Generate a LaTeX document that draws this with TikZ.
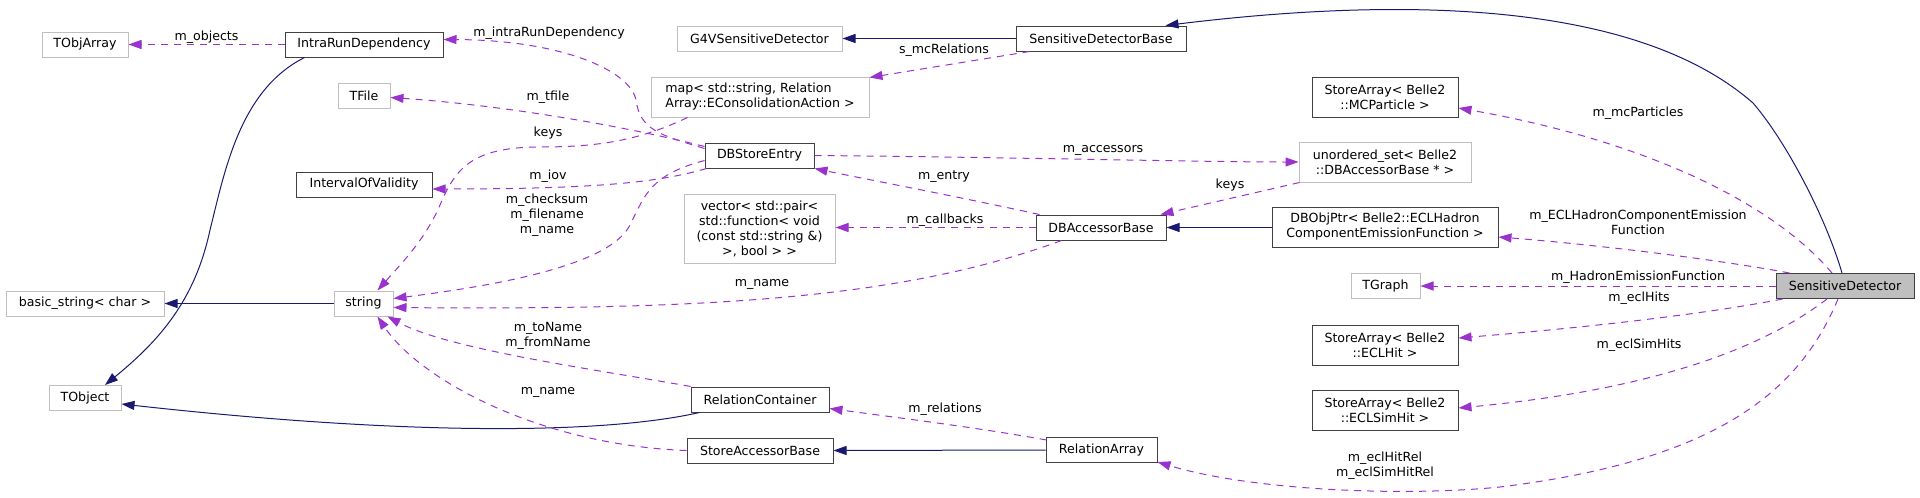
\documentclass[tikz,border=0pt]{standalone}
\usepackage{fontspec}
\setmainfont{DejaVu Sans}
\usetikzlibrary{arrows.meta,calc}
\definecolor{dep}{HTML}{9A32CD}
\definecolor{inh}{HTML}{191970}
\definecolor{gbord}{HTML}{BFBFBF}
\definecolor{bbord}{HTML}{404040}
\begin{document}
\begin{tikzpicture}[x=1pt,y=-1pt,
  every node/.style={font=\fontsize{12.6}{15}\selectfont},
  box/.style={draw=bbord,line width=1pt,fill=white,inner sep=0pt,align=center},
  gbox/.style={draw=gbord,line width=1pt,fill=white,inner sep=0pt,align=center},
  depl/.style={draw=dep,line width=1pt,dash pattern=on 7pt off 6pt,-{Triangle[length=13pt,width=9pt,fill=dep]}},
  inhl/.style={draw=inh,line width=1pt,-{Triangle[length=13pt,width=9pt,fill=inh]}},
  lab/.style={inner sep=0pt,align=center,text=black}]
\useasboundingbox (0,0) rectangle (1920,498);
% nodes
\node[gbox,minimum width=86pt,minimum height=25pt] (tobjarray) at (85,44.5) {TObjArray};
\node[box,minimum width=158pt,minimum height=25pt] (intra) at (364,44.5) {IntraRunDependency};
\node[gbox,minimum width=52pt,minimum height=25pt] (tfile) at (364,95.5) {TFile};
\node[box,minimum width=136pt,minimum height=25pt] (iov) at (364,184.5) {IntervalOfValidity};
\node[gbox,minimum width=158pt,minimum height=25pt] (basic) at (85,303.5) {basic\_string< char >};
\node[gbox,minimum width=72pt,minimum height=25pt] (tobject) at (85,398) {TObject};
\node[gbox,minimum width=59pt,minimum height=25pt] (string) at (363.5,303.5) {string};
\node[gbox,minimum width=165pt,minimum height=25pt] (g4v) at (759.5,38.5) {G4VSensitiveDetector};
\node[gbox,minimum width=218pt,minimum height=40pt,align=left] (map) at (760,97) {map< std::string, Relation\\Array::EConsolidationAction >};
\node[box,minimum width=109pt,minimum height=25pt] (dbse) at (759.5,155.5) {DBStoreEntry};
\node[gbox,minimum width=151pt,minimum height=69pt] (vector) at (759.5,228.5) {vector< std::pair<\\ std::function< void\\ (const std::string \&)\\ >, bool > >};
\node[box,minimum width=138pt,minimum height=25pt] (relcont) at (760,399.5) {RelationContainer};
\node[box,minimum width=146pt,minimum height=25pt] (sab) at (760,450.5) {StoreAccessorBase};
\node[box,minimum width=170pt,minimum height=25pt] (sdb) at (1101,38.5) {SensitiveDetectorBase};
\node[box,minimum width=146pt,minimum height=40pt] (mcpart) at (1385,97) {StoreArray< Belle2\\::MCParticle >};
\node[gbox,minimum width=172pt,minimum height=40pt] (uset) at (1385,162) {unordered\_set< Belle2\\::DBAccessorBase * >};
\node[box,minimum width=130pt,minimum height=25pt] (dbab) at (1101,227.5) {DBAccessorBase};
\node[box,minimum width=226pt,minimum height=40pt] (dbobj) at (1385,227) {DBObjPtr< Belle2::ECLHadron\\ComponentEmissionFunction >};
\node[gbox,minimum width=69pt,minimum height=25pt] (tgraph) at (1385.5,286) {TGraph};
\node[box,minimum width=146pt,minimum height=40pt] (eclhit) at (1385,345) {StoreArray< Belle2\\::ECLHit >};
\node[box,minimum width=146pt,minimum height=40pt] (eclsim) at (1385,410) {StoreArray< Belle2\\::ECLSimHit >};
\node[box,minimum width=111pt,minimum height=25pt] (relarr) at (1101.5,450) {RelationArray};
\node[box,fill=gbord,minimum width=138pt,minimum height=25pt] (sd) at (1845,286) {SensitiveDetector};
% inheritance edges
\draw[inhl] ($(intra.south west)+(20,0)$) .. controls (240,90) and (225,170) .. (210,230) .. controls (195,300) and (160,340) .. ($(tobject.north)+(20,0)$);
\draw[inhl] (string.west) -- (basic.east);
\draw[inhl] (sdb.west) -- (g4v.east);
\draw[inhl] (dbobj.west |- dbab.east) -- (dbab.east);
\draw[inhl] ($(relcont.south west)+(9,0)$) .. controls (600,435) and (400,435) .. ($(tobject.east)+(0,6)$);
\draw[inhl] (relarr.west) -- (sab.east);
\draw[inhl] ($(sd.north)+(-3,0)$) .. controls (1825,215) and (1785,140) .. (1753,103) .. controls (1640,4) and (1415,-5) .. ($(sdb.north east)+(-21,0)$);
% dependency edges
\draw[depl] (intra.west) -- (tobjarray.east) node[lab,midway,above=1pt] {m\_objects};
\draw[depl] ($(dbse.west)+(0,-7)$) .. controls (660,135) and (640,130) .. (636,100) .. controls (630,70) and (560,40) .. ($(intra.east)+(0,-5)$);
\node[lab] (l_intra) at (549,33) {m\_intraRunDependency};
\draw[depl] ($(dbse.west)+(0,-9)$) .. controls (620,125) and (500,105) .. ($(tfile.east)+(0,2)$);
\node[lab] (l_tfile) at (548,97) {m\_tfile};
\draw[depl] ($(map.south west)+(37,0)$) .. controls (640,140) and (600,147) .. (540,147) .. controls (470,147) and (455,170) .. (440,205) .. controls (425,240) and (400,265) .. ($(string.north)+(14,0)$);
\node[lab] (l_keys1) at (548,133) {keys};
\draw[depl] ($(dbse.south west)+(2,0)$) .. controls (660,182) and (600,189) .. ($(iov.east)+(0,4.5)$);
\node[lab] (l_iov) at (548,176) {m\_iov};
\draw[depl] ($(dbse.west)+(0,5)$) .. controls (650,175) and (645,195) .. (630,225) .. controls (610,265) and (500,285) .. ($(string.east)+(0,-5)$);
\node[lab] (l_chk) at (547,215) {m\_checksum\\m\_filename\\m\_name};
\draw[depl] ($(dbab.south west)+(26,0)$) .. controls (900,300) and (700,310) .. ($(string.east)+(0,4)$);
\node[lab] (l_name1) at (762,284) {m\_name};
\draw[depl] (relcont.north west) .. controls (600,370) and (450,350) .. ($(string.south east)+(-6,0)$);
\node[lab] (l_to) at (548,336) {m\_toName\\m\_fromName};
\draw[depl] (sab.west) .. controls (540,445) and (420,380) .. ($(string.south)+(14,0)$);
\node[lab] (l_name2) at (548,392) {m\_name};
\draw[depl] ($(sdb.south west)+(14,0)$) -- ($(map.north east)+(0,1)$);
\node[lab] (l_smc) at (944,50) {s\_mcRelations};
\draw[depl] (dbse.east) .. controls (1000,157) and (1200,162) .. (uset.west);
\node[lab] (l_acc) at (1103,150) {m\_accessors};
\draw[depl] ($(dbab.north west)+(4,0)$) .. controls (950,195) and (870,180) .. (dbse.south east);
\node[lab] (l_entry) at (944,177) {m\_entry};
\draw[depl] (dbab.west) -- (dbab.west -| vector.east);
\node[lab] (l_cb) at (945,220) {m\_callbacks};
\draw[depl] ($(uset.south west)+(1,0)$) -- ($(dbab.north east)+(-6,0)$);
\node[lab] (l_keys2) at (1230,185) {keys};
\draw[depl] ($(relarr.north west)+(1,3)$) .. controls (980,428) and (900,418) .. ($(relcont.east)+(0,9)$);
\node[lab] (l_rel) at (945,409) {m\_relations};
\draw[depl] ($(sd.north)+(-13,0)$) .. controls (1770,200) and (1640,140) .. ($(mcpart.east)+(0,11)$);
\node[lab] (l_mcp) at (1638,113) {m\_mcParticles};
\draw[depl] ($(sd.north west)+(14,0)$) .. controls (1720,260) and (1600,245) .. ($(dbobj.east)+(0,10)$);
\node[lab] (l_had) at (1638,222) {m\_ECLHadronComponentEmission\\Function};
\draw[depl] (sd.west) -- (tgraph.east);
\node[lab] (l_hef) at (1638,277) {m\_HadronEmissionFunction};
\draw[depl] ($(sd.south west)+(7,0)$) .. controls (1700,315) and (1580,328) .. ($(eclhit.east)+(0,-7)$);
\node[lab] (l_hits) at (1639,298) {m\_eclHits};
\draw[depl] ($(sd.south)+(-18,0)$) .. controls (1760,350) and (1650,390) .. ($(eclsim.east)+(0,-2)$);
\node[lab] (l_sim) at (1639,345) {m\_eclSimHits};
\draw[depl] ($(sd.south)+(-7,0)$) .. controls (1800,390) and (1720,460) .. (1500,487) .. controls (1400,497) and (1250,490) .. ($(relarr.south east)+(0,-1)$);
\node[lab] (l_rels) at (1385,466) {m\_eclHitRel\\m\_eclSimHitRel};
\end{tikzpicture}
\end{document}
